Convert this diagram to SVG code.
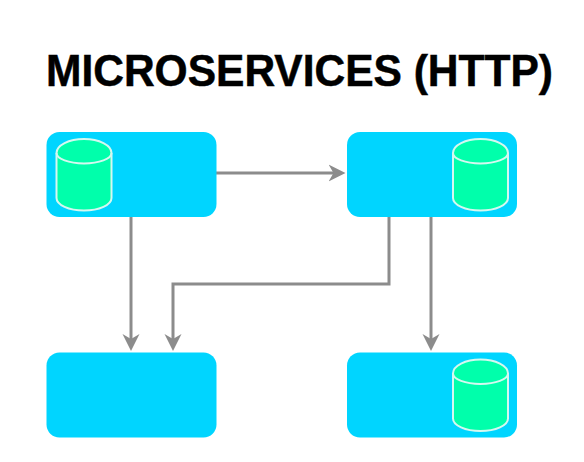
<svg xmlns="http://www.w3.org/2000/svg" width="584" height="462" viewBox="0 0 584 462">
<style>
.box{fill:#00d5ff}
.db{fill:#00ffab;stroke:#d5f8f0;stroke-width:2}
.lip{fill:none;stroke:#d5f8f0;stroke-width:2}
.c{fill:none;stroke:#8c8c8c;stroke-width:3}
.t{font-family:"Liberation Sans",Arial,sans-serif;font-weight:700;font-size:43.500px;fill:#000;stroke:#000;stroke-width:.5}
</style>
<defs>
<marker id="a" markerUnits="userSpaceOnUse" markerWidth="20" markerHeight="20" refX="10" refY="9.500" orient="auto">
<path d="M0 1L17 9.500L0 18L5 9.500Z" fill="#8c8c8c"/>
</marker>
<symbol id="cyl" overflow="visible">
<path class="db" d="M0 14A27.500 14 0 0 1 55 14V59A27.500 12.500 0 0 1 0 59Z"/>
<path class="lip" d="M0 14A27.500 10.500 0 0 0 55 14"/>
</symbol>
</defs>
<text class="t" id="title" x="46" y="86" textLength="507" lengthAdjust="spacingAndGlyphs">MICROSERVICES (HTTP)</text>
<g id="connectors">
<path class="c" marker-end="url(#a)" d="M216 173H338.500"/>
<path class="c" marker-end="url(#a)" d="M131 216V344"/>
<path class="c" marker-end="url(#a)" d="M389 216V284H173V344"/>
<path class="c" marker-end="url(#a)" d="M431 216V344"/>
</g>
<g id="node-a"><rect class="box" x="46.500" y="132" width="170" height="85" rx="13"/><use href="#cyl" x="56.500" y="139"/></g>
<g id="node-b"><rect class="box" x="347" y="132" width="170" height="85" rx="13"/><use href="#cyl" x="453" y="139"/></g>
<g id="node-c"><rect class="box" x="46.500" y="352.500" width="170" height="85" rx="13"/></g>
<g id="node-d"><rect class="box" x="347" y="352.500" width="170" height="85" rx="13"/><use href="#cyl" x="453" y="359.500"/></g>
</svg>
